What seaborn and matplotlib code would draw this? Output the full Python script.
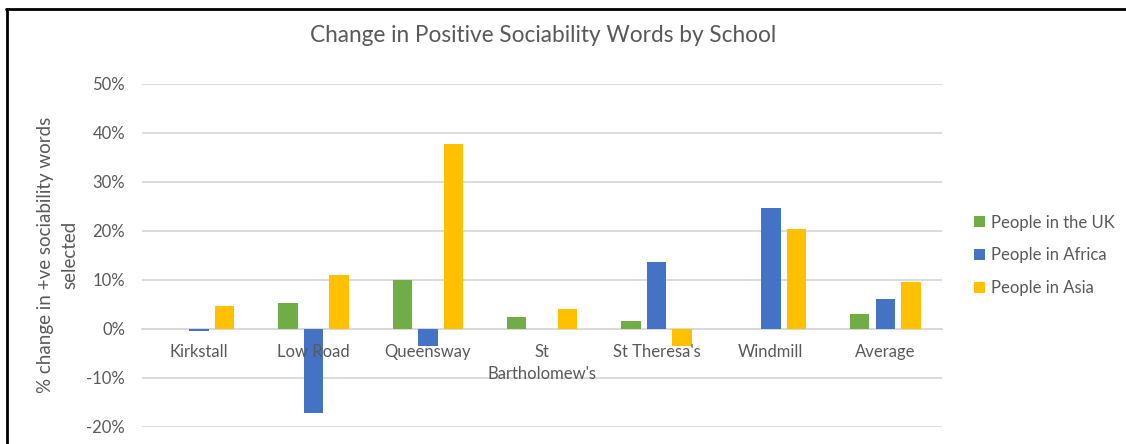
import matplotlib
matplotlib.use('Agg')
import matplotlib.pyplot as plt
from matplotlib.lines import Line2D
from matplotlib.ticker import PercentFormatter
import seaborn as sns
import pandas as pd

schools = ['Kirkstall', 'Low Road', 'Queensway', "St\nBartholomew's",
           "St Theresa's", 'Windmill', 'Average']
groups = ['People in the UK', 'People in Africa', 'People in Asia']
uk = [0.0, 5.3, 10.0, 2.3, 1.5, 0.0, 3.1]
africa = [-0.5, -17.3, -3.6, 0.0, 13.7, 24.7, 6.0]
asia = [4.6, 10.9, 37.7, 4.1, -3.6, 20.3, 9.5]
colors = ['#70AD47', '#4472C4', '#FFC000']
yticks = [-20, -10, 0, 10, 20, 30, 40, 50]

df = pd.DataFrame({
    'school': schools * 3,
    'group': [g for g in groups for _ in schools],
    'value': uk + africa + asia,
})

sns.set_theme(style='white')
plt.rcParams['font.family'] = ['Lato', 'DejaVu Sans']
plt.rcParams['axes.unicode_minus'] = False
text_color = '#595959'
grid_color = '#D9D9D9'

fig = plt.figure(figsize=(11.26, 4.44), dpi=100)
ax = fig.add_axes([0.126, 0.039, 0.711, 0.772])

sns.barplot(data=df, x='school', y='value', hue='group', hue_order=groups,
            palette=colors, saturation=1, width=0.67, gap=0.24, linewidth=0,
            ax=ax, order=schools, errorbar=None, zorder=2)

ax.set_ylim(-20, 50)
ax.set_yticks(yticks)
ax.yaxis.set_major_formatter(PercentFormatter(decimals=0))
ax.set_xlim(-0.5, len(schools) - 0.5)
ax.grid(axis='y', color=grid_color, linewidth=1.3)
for s in ['top', 'right', 'left']:
    ax.spines[s].set_visible(False)
ax.spines['bottom'].set_position(('data', 0))
ax.spines['bottom'].set_color(grid_color)
ax.spines['bottom'].set_linewidth(1.3)
ax.spines['bottom'].set_zorder(1)
# school names sit over the bars, as in the original
ax.xaxis.set_zorder(4)
ax.tick_params(axis='x', length=0, pad=11, labelsize=12, colors=text_color)
ax.tick_params(axis='y', length=0, pad=12, labelsize=12, colors=text_color)
for lbl in ax.get_xticklabels():
    lbl.set_verticalalignment('top')
    lbl.set_linespacing(1.45)
ax.set_xlabel('')
ax.set_ylabel('% change in +ve sociability words\nselected', fontsize=13.5,
              color=text_color, labelpad=6, linespacing=1.5)

handles, labels = ax.get_legend_handles_labels()
ax.legend(handles, labels, loc='center left', bbox_to_anchor=(0.852, 0.425),
          bbox_transform=fig.transFigure, frameon=False, fontsize=12,
          labelcolor=text_color, handlelength=0.65, handleheight=0.65,
          handletextpad=0.35, labelspacing=1.0)

fig.text(0.482, 0.921, 'Change in Positive Sociability Words by School',
         ha='center', va='center', fontsize=16.3, color=text_color)

# black frame around the chart image (top and left edges)
fig.add_artist(Line2D([6 / 1126, 1], [1 - 9 / 444, 1 - 9 / 444],
                      transform=fig.transFigure, color='black', linewidth=2))
fig.add_artist(Line2D([7 / 1126, 7 / 1126], [0, 1 - 9 / 444],
                      transform=fig.transFigure, color='black', linewidth=2))

fig.savefig('out.png', dpi=100, facecolor='white')
